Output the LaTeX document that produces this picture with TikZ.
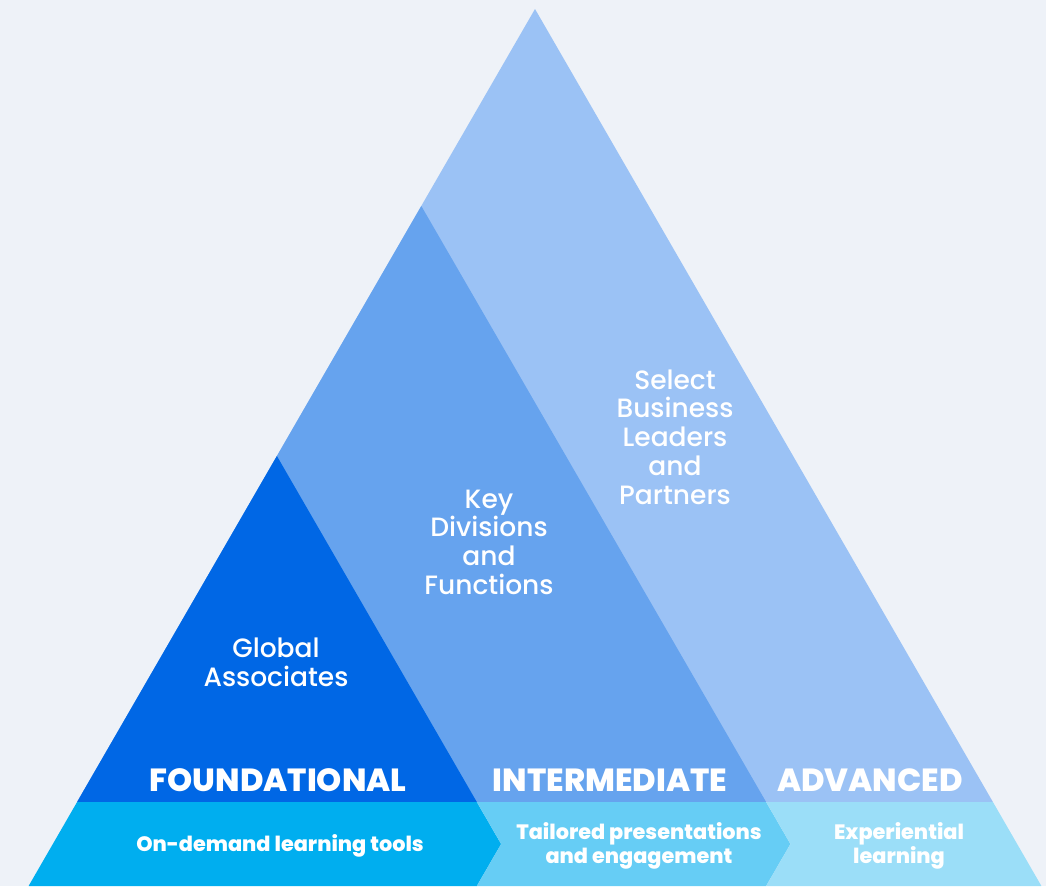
\documentclass[tikz,border=0pt]{standalone}
\usepackage{fontspec}
\setmainfont{Poppins}[UprightFont={* Medium}, BoldFont={* ExtraBold}]
\usetikzlibrary{positioning}
\definecolor{bgpage}{HTML}{EEF2F8}
\definecolor{tierlight}{HTML}{9BC2F5}
\definecolor{tiermid}{HTML}{66A3EE}
\definecolor{tierdark}{HTML}{0067E5}
\definecolor{bandone}{HTML}{00AEEF}
\definecolor{bandtwo}{HTML}{66CDF5}
\definecolor{bandthree}{HTML}{9BDEF8}
\tikzset{
  tiertext/.style={
    text=white, align=center, font=\fontsize{26.5}{28.7}\selectfont
  },
  levellabel/.style={
    text=white, font=\fontsize{32}{34}\selectfont\bfseries
  },
  bandtext/.style={
    text=white, align=center, font=\fontsize{20.8}{24}\selectfont\bfseries
  }
}

\begin{document}
\begin{tikzpicture}[x=1pt, y=-1pt]
    \fill[bgpage] (0,0) rectangle (1046,886);
    \useasboundingbox (0,0) rectangle (1046,886);

    % corner points of the three tiers
    \coordinate (apexbig) at (535,9);
    \coordinate (apexmid) at (421.3,206);
    \coordinate (apexsmall) at (276.9,456);
    \coordinate (leftband) at (77.1,802);
    \coordinate (leftbase) at (28.6,886);
    \coordinate (smallright) at (476.8,802);
    \coordinate (midright) at (766.1,802);
    \coordinate (bigright) at (992.9,802);
    \coordinate (tipone) at (501.1,844);
    \coordinate (tiptwo) at (790.4,844);
    \coordinate (baseone) at (476.8,886);
    \coordinate (basetwo) at (766.1,886);
    \coordinate (rightbase) at (1041.4,886);

    % tiers
    \fill[tierlight] (apexbig) -- (bigright) -- (leftband) -- cycle;
    \fill[tiermid] (apexmid) -- (midright) -- (leftband) -- cycle;
    \fill[tierdark] (apexsmall) -- (smallright) -- (leftband) -- cycle;

    % bottom band
    \fill[bandone] (leftband) -- (smallright) -- (tipone) -- (baseone) -- (leftbase) -- cycle;
    \fill[bandtwo] (smallright) -- (midright) -- (tiptwo) -- (basetwo) -- (baseone) -- (tipone) -- cycle;
    \fill[bandthree] (midright) -- (bigright) -- (rightbase) -- (basetwo) -- (tiptwo) -- cycle;

    \node[tiertext] (global) at (276,662) {Global\\Associates};
    \node[tiertext] (divisions) at (489,542) {Key\\Divisions\\and\\Functions};
    \node[tiertext] (leaders) at (675,437) {Select\\Business\\Leaders\\and\\Partners};

    \node[levellabel] (foundational) at (278,780) {FOUNDATIONAL};
    \node[levellabel] (intermediate) at (610,780) {INTERMEDIATE};
    \node[levellabel] (advanced) at (870,780) {ADVANCED};

    \node[bandtext] (ondemand) at (280,846) {On-demand learning tools};
    \node[bandtext] (tailored) at (639,846) {Tailored presentations\\and engagement};
    \node[bandtext] (experiential) at (899,846) {Experiential\\learning};
\end{tikzpicture}
\end{document}
